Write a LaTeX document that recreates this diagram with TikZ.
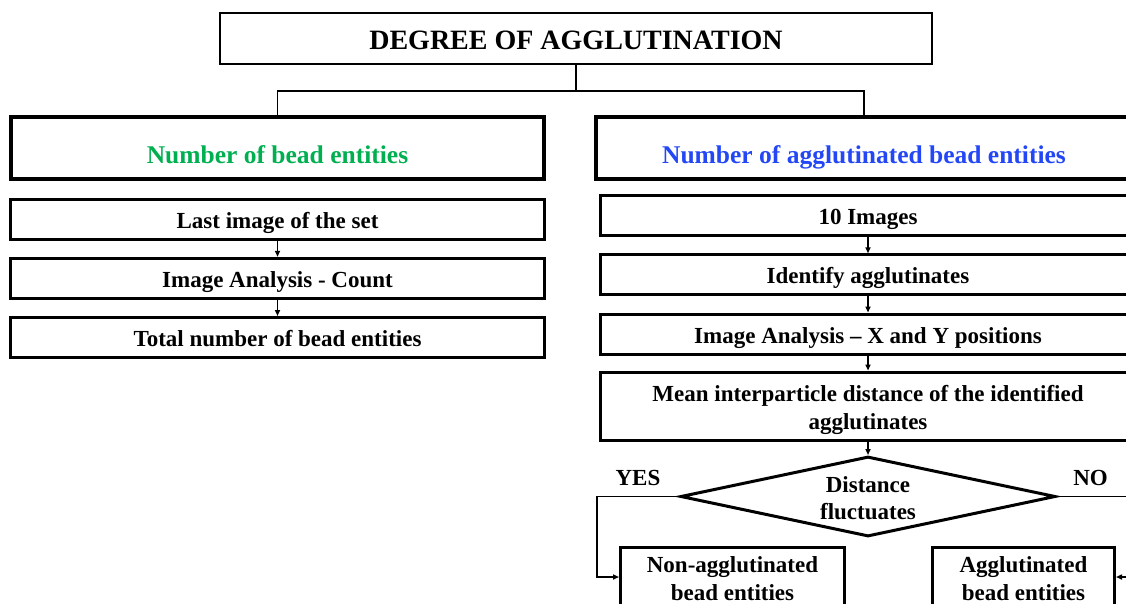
\documentclass[tikz,border=0pt]{standalone}
\usepackage{fontspec}
\setmainfont{Liberation Serif}
\usetikzlibrary{positioning, arrows.meta, calc, shapes.geometric}
\definecolor{beadgreen}{HTML}{00B050}
\definecolor{agglblue}{HTML}{2347F5}

\begin{document}
\begin{tikzpicture}[
    x=1pt, y=1pt,
    node distance=16.2pt,
    >={Triangle[length=6pt, width=5pt]},
    box/.style={
        draw, line width=3pt, minimum width=#1, minimum height=40pt,
        align=center, inner sep=2pt, text height=18pt, text depth=0pt,
        font=\fontsize{23}{28}\selectfont\bfseries
    },
    box/.default=534pt,
    twoline/.style={text height=46pt},
    head/.style={box=#1, line width=3.2pt, minimum height=62pt,
        text height=31pt, font=\fontsize{25.5}{30}\selectfont\bfseries},
    decision/.style={
        diamond, draw, line width=3pt, shape aspect=4.6, inner sep=0pt,
        minimum width=375pt, minimum height=80pt, align=center,
        text height=45pt, text depth=0pt,
        font=\fontsize{23}{27}\selectfont\bfseries
    },
    link/.style={line width=1.8pt},
    flow/.style={->, line width=1.6pt},
    answer/.style={font=\fontsize{23}{28}\selectfont\bfseries, inner sep=0pt},
]

\useasboundingbox (0,0) rectangle (1126,-603);
\clip (0,0) rectangle (1126,-603);

% === Title ===
\node[box=712pt, line width=2pt, minimum height=51pt, text height=22.5pt,
      font=\fontsize{28}{33}\selectfont\bfseries] (title) at (576,-38.5)
    {DEGREE OF AGGLUTINATION};

% === Headers ===
\node[head=533pt, text=beadgreen] (lhead) at (277.5,-148)
    {Number of bead entities};
\node[head=536pt, text=agglblue] (rhead) at (864,-148)
    {Number of agglutinated bead entities};

% === Left branch ===
\node[box, below=17pt of lhead] (last) {Last image of the set};
\node[box, below=of last] (count) {Image Analysis - Count};
\node[box, below=of count] (total) {Total number of bead entities};

% === Right branch ===
\node[box=536pt, below=13.5pt of rhead, xshift=4pt] (tenimg) {10 Images};
\node[box=536pt, below=of tenimg] (ident) {Identify agglutinates};
\node[box=536pt, below=of ident] (xypos) {Image Analysis -- X and Y positions};
\node[box=536pt, twoline, below=15pt of xypos, minimum height=68pt] (mean)
    {Mean interparticle distance of the identified\\agglutinates};

% === Decision ===
\node[decision, below=13.5pt of mean] (dec) {Distance\\fluctuates};

\node[box=224pt, twoline, minimum height=59pt, below=8pt of dec, xshift=-135.5pt] (nonagg)
    {Non-agglutinated\\bead entities};
\node[box=182pt, twoline, minimum height=59pt, below=8pt of dec, xshift=155.5pt] (agg)
    {Agglutinated\\bead entities};

% ===== ARROWS =====

% Title -> headers
\draw[link] (title.south) -- ++(0,-26) coordinate (split);
\draw[link] (lhead.north) |- (split) -| (rhead.north);

% Left steps
\draw[flow] (last) -- (count);
\draw[flow] (count) -- (total);

% Right steps
\draw[flow] (tenimg) -- (ident);
\draw[flow] (ident) -- (xypos);
\draw[flow] (xypos) -- (mean);
\draw[flow] (mean) -- (dec);

% Decision outcomes
\draw[flow] (dec.west) -- ++(-82,0)
    node[midway, answer, above=9.5pt] {YES} |- (nonagg.west);
\draw[flow] (dec.east) -- ++(80,0)
    node[pos=0.42, answer, above=9.5pt] {NO} |- (agg.east);

\end{tikzpicture}
\end{document}
